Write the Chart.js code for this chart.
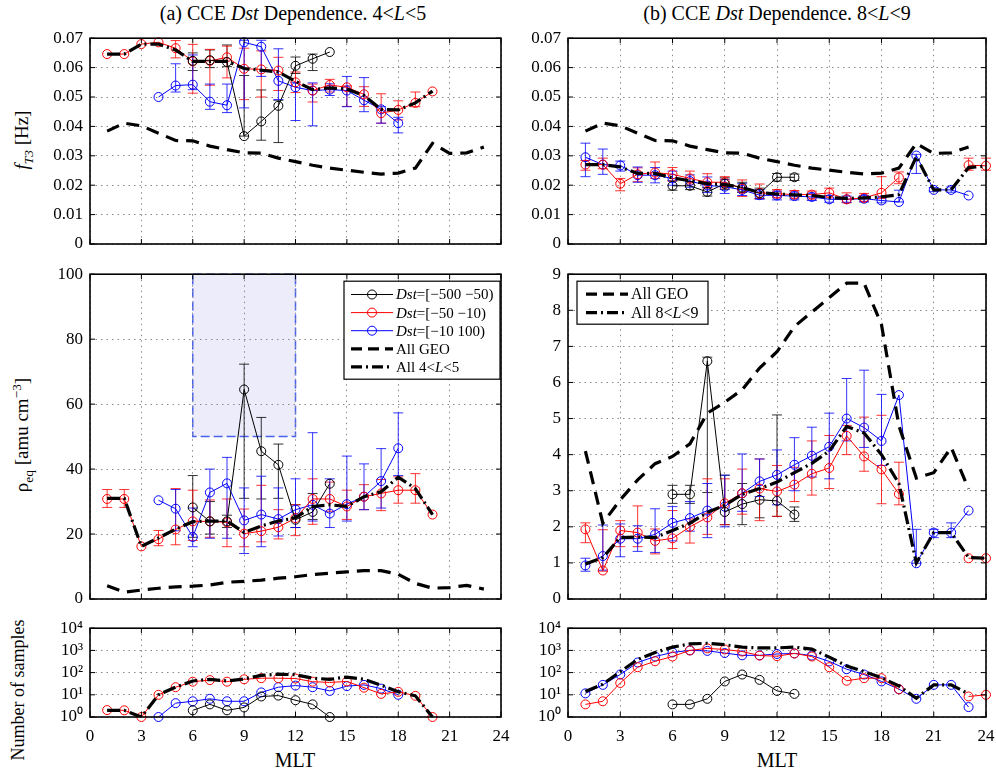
<!DOCTYPE html>
<html>
<head>
<meta charset="utf-8">
<script src="https://cdn.jsdelivr.net/npm/chart.js@4.4.1/dist/chart.umd.min.js"></script>
<style>
  body { margin: 0; background: #fff; width: 996px; height: 775px; overflow: hidden; position: relative;
         font-family: "Liberation Serif", "Times New Roman", serif; color: #000; }
  canvas { position: absolute; }
  .lbl { position: absolute; white-space: nowrap; transform: translate(-50%, -50%); }
  .rot { transform: translate(-50%, -50%) rotate(-90deg); }
  sub, sup { font-size: 70%; line-height: 0; }
</style>
</head>
<body>
<div class="lbl" style="left:293px; top:13px; font-size:20px;">(a) CCE <i>Dst</i> Dependence. 4&lt;<i>L</i>&lt;5</div>
<div class="lbl" style="left:777px; top:13px; font-size:20px;">(b) CCE <i>Dst</i> Dependence. 8&lt;<i>L</i>&lt;9</div>
<div class="lbl rot" style="left:22px; top:140px; font-size:19px;"><i>f</i><sub><i>T3</i></sub> [Hz]</div>
<div class="lbl rot" style="left:22px; top:435px; font-size:19px;">&rho;<sub>eq</sub> [amu cm<sup>&minus;3</sup>]</div>
<div class="lbl rot" style="left:18px; top:690px; font-size:18px;">Number of samples</div>
<div class="lbl" style="left:295px; top:760px; font-size:20px;">MLT</div>
<div class="lbl" style="left:777px; top:760px; font-size:20px;">MLT</div>

<canvas id="fA"></canvas>
<canvas id="fB"></canvas>
<canvas id="rA"></canvas>
<canvas id="rB"></canvas>
<canvas id="nA"></canvas>
<canvas id="nB"></canvas>

<script>
// MLT bins 1..24, null = no data in that bin
const mltTicks = [0, 3, 6, 9, 12, 15, 18, 21, 24];
const fTicks = [0, 0.01, 0.02, 0.03, 0.04, 0.05, 0.06, 0.07];
const rhoTicksA = [0, 20, 40, 60, 80, 100];
const rhoTicksB = [0, 1, 2, 3, 4, 5, 6, 7, 8, 9];
const countTicks = [1, 10, 100, 1000, 10000];

// All GEO reference curves (shared by both columns)
const geoF = [0.0384, 0.0411, 0.0402, 0.0377, 0.0352, 0.0351, 0.0333, 0.0321, 0.031, 0.0309, 0.0292, 0.028,
  0.0268, 0.0258, 0.0251, 0.0244, 0.0238, 0.0241, 0.0258, 0.0342, 0.0308, 0.031, 0.033];
const geoRho = [4.1, 2.1, 2.75, 3.3, 3.75, 3.95, 4.3, 5.15, 5.45, 5.8, 6.4, 6.85, 7.55, 7.95, 8.35, 8.75,
  8.75, 7.6, 4.8, 3.35, 3.5, 4.2, 3.05];

// (a) 4<L<5, f_T3
const fA_strong = [null, null, null, null, null, 0.0623, 0.0625, 0.0619, 0.0367, 0.0417, 0.047, 0.0606, 0.063, 0.0653];
const fA_strongHi = [null, null, null, null, null, 0.065, 0.066, 0.0677, 0.0573, 0.0524, 0.0489, 0.0636, 0.0646, null];
const fA_strongLo = [null, null, null, null, null, 0.059, 0.060, 0.0603, 0.0367, 0.0353, 0.0345, 0.058, 0.059, null];
const fA_mid = [0.0646, 0.0646, 0.068, 0.0686, 0.0666, 0.0621, 0.0623, 0.0635, 0.0596, 0.0594, 0.059, 0.055,
  0.0522, 0.0541, 0.0533, 0.0509, 0.0445, 0.0456, 0.048, 0.0519];
const fA_midHi = [null, null, null, null, 0.0692, 0.0679, 0.0662, 0.0673, 0.0666, 0.0657, 0.0635, 0.0585,
  0.0544, 0.056, 0.0538, 0.0535, 0.0511, 0.0487, 0.0517, null];
const fA_midLo = [null, null, null, null, 0.0633, 0.0513, 0.054, 0.0565, 0.0491, 0.05, 0.0522, 0.0515,
  0.0483, 0.0517, 0.0468, 0.0468, 0.0411, 0.0422, 0.0467, null];
const fA_quiet = [null, null, null, 0.05, 0.0539, 0.0542, 0.0484, 0.0472, 0.0686, 0.0671, 0.0555, 0.0533,
  0.0522, 0.0525, 0.0522, 0.0489, 0.0458, 0.0411];
const fA_quietHi = [null, null, null, null, 0.0613, 0.0643, 0.0544, 0.0544, 0.0693, 0.0693, 0.0664, 0.055,
  0.0548, 0.0545, 0.057, 0.0566, 0.0467, 0.0431];
const fA_quietLo = [null, null, null, null, 0.0517, 0.0525, 0.0458, 0.0447, 0.0463, 0.057, 0.0491, 0.042,
  0.0402, 0.0505, 0.0467, 0.045, 0.0411, 0.0378];
const fA_all = [0.0646, 0.0646, 0.068, 0.068, 0.066, 0.0621, 0.0621, 0.0621, 0.0597, 0.0591, 0.0585, 0.0553,
  0.0525, 0.0531, 0.0527, 0.0505, 0.0458, 0.0456, 0.048, 0.052];

// (b) 8<L<9, f_T3
const fB_strong = [null, null, null, null, null, 0.0198, 0.0198, 0.0177, 0.0205, 0.0192, 0.0172, 0.0227, 0.0227];
const fB_strongHi = [null, null, null, null, null, 0.0215, 0.0212, 0.0192, 0.0225, 0.021, 0.019, 0.024, 0.0238];
const fB_strongLo = [null, null, null, null, null, 0.0183, 0.0185, 0.0163, 0.0185, 0.0175, 0.0155, 0.0214, 0.0216];
const fB_mid = [0.027, 0.027, 0.0205, 0.0237, 0.0243, 0.0237, 0.0223, 0.021, 0.021, 0.0188, 0.0174, 0.0171,
  0.0168, 0.0168, 0.0174, 0.0152, 0.0157, 0.0174, 0.0226, null, null, null, 0.0268, 0.0266];
const fB_midHi = [0.0284, 0.0292, 0.0223, 0.0259, 0.0279, 0.026, 0.0248, 0.0239, 0.0229, 0.0218, 0.0204, 0.0185,
  0.0182, 0.018, 0.019, 0.0174, 0.0172, 0.0229, 0.0245, null, null, null, 0.0292, 0.0292];
const fB_midLo = [0.0251, 0.0256, 0.0181, 0.0212, 0.0223, 0.0214, 0.0204, 0.019, 0.019, 0.0162, 0.0155, 0.0157,
  0.0156, 0.0153, 0.0157, 0.014, 0.0145, 0.0155, 0.0205, null, null, null, 0.0251, 0.0251];
const fB_quiet = [0.0295, 0.027, 0.0267, 0.0234, 0.0234, 0.0223, 0.0214, 0.0199, 0.0195, 0.0184, 0.0166, 0.0165,
  0.0163, 0.016, 0.0152, 0.0152, 0.0154, 0.0148, 0.0143, 0.0301, 0.0184, 0.0184, 0.0165];
const fB_quietHi = [0.0343, 0.0323, 0.0282, 0.0262, 0.026, 0.0248, 0.0235, 0.0228, 0.022, 0.0205, 0.0185, 0.018,
  0.0177, 0.0173, 0.0165, 0.0163, 0.0165, 0.016, 0.0183, 0.0305, 0.0192, 0.0194, null];
const fB_quietLo = [0.0229, 0.0237, 0.0248, 0.021, 0.0208, 0.02, 0.0193, 0.0175, 0.0172, 0.0165, 0.0152, 0.015,
  0.015, 0.0148, 0.0142, 0.0142, 0.0143, 0.014, 0.0143, 0.024, 0.0178, 0.0176, null];
const fB_all = [0.027, 0.027, 0.0262, 0.024, 0.024, 0.0225, 0.0215, 0.0205, 0.0202, 0.0192, 0.0175, 0.017,
  0.0167, 0.0165, 0.0158, 0.0155, 0.0157, 0.016, 0.0168, 0.0297, 0.0184, 0.0184, 0.026, 0.0265];

// (a) 4<L<5, rho_eq
const rA_strong = [null, null, null, null, null, 28.2, 23.9, 23.9, 64.5, 45.5, 41.3, 24.4, 26.8, 35.5];
const rA_strongHi = [null, null, null, null, null, 38, 30, 25.8, 72.3, 55.9, 47.7, 29, 32.5, null];
const rA_strongLo = [null, null, null, null, null, 19, 20, 22, 31, 30.8, 31, 22, 24.5, null];
const rA_mid = [30.8, 30.8, 16.2, 18.4, 21.4, 23.9, 23.9, 23.6, 20.1, 20.9, 22.1, 24.9, 30.8, 30.8, 28.5,
  31.5, 32.5, 33.5, 33.5, 26];
const rA_midHi = [33.7, 33.7, null, 21.1, 34, 33.5, 30.5, 30.8, 27.7, 35, 27.5, 29, 37, 36, 33.5, 35.2,
  36.8, 37.6, 38.6, null];
const rA_midLo = [28.2, 28.2, null, 16.4, 16.7, 18, 19, 16.1, 16.1, 17.6, 18.5, 19.5, 23, 27, 24.5, 27.5,
  27.2, 29.5, 29.5, null];
const rA_quiet = [null, null, null, 30.4, 27.8, 19.1, 32.8, 35.6, 24.2, 26, 24.6, 27.5, 29, 26.3, 29.2, 31.5, 36.3, 46.4];
const rA_quietHi = [null, null, null, null, 33.7, 28, 40, 43.6, 34.2, 37.8, 34.2, 37, 51.2, 37, 44, 41.6, 46.3, 57.3];
const rA_quietLo = [null, null, null, null, 21, 16.1, 18.7, 18.7, 14, 16.1, 19.4, 22, 24, 22, 24, 27.5, 28, 38];
const rA_all = [31, 31, 16.2, 18.8, 21.5, 23.8, 24, 24, 20.5, 22.5, 24, 25, 28.5, 29, 28.5, 31.5, 33, 37.5, 34, 26];

// (b) 8<L<9, rho_eq
const rB_strong = [null, null, null, null, null, 2.9, 2.9, 6.59, 2.41, 2.63, 2.75, 2.72, 2.34];
const rB_strongHi = [null, null, null, null, null, 3.15, 3.15, 6.7, 3.43, 3.2, 3.06, 5.1, 2.55];
const rB_strongLo = [null, null, null, null, null, 2.65, 2.65, 2.95, 2.06, 2.06, 2.25, 2.29, 2.15];
const rB_mid = [1.93, 0.79, 1.9, 1.84, 1.61, 1.68, 2.0, 2.26, 2.65, 2.93, 3.06, 2.98, 3.17, 3.47, 3.63, 4.52,
  3.95, 3.59, 2.91, null, null, null, 1.13, 1.13];
const rB_midHi = [2.11, 1.92, 2.17, 2.58, 1.94, 2.45, 2.22, 3.33, 3.33, 3.6, 3.88, 3.7, 3.65, 4.38, 4.53, 4.81,
  5.04, 5.09, 3.79, null, null, null, null, null];
const rB_midLo = [1.56, 0.77, 1.45, 1.45, 1.25, 1.4, 1.55, 1.79, 2.06, 2.35, 2.17, 2.29, 2.7, 2.88, 3.06, 4.0,
  3.54, 2.64, 2.61, null, null, null, null, null];
const rB_quiet = [0.93, 1.19, 1.67, 1.67, 1.79, 2.11, 2.24, 2.45, 2.56, 2.93, 3.26, 3.44, 3.72, 3.97, 4.22, 5.0,
  4.75, 4.38, 5.65, 0.99, 1.84, 1.84, 2.45];
const rB_quietHi = [1.13, 2.05, 2.08, 2.03, 2.5, 2.56, 2.7, 3.2, 3.43, 4.02, 3.88, 4.13, 4.47, 4.76, 5.15, 6.11,
  6.34, 5.67, null, 1.93, 1.93, 2.11, null];
const rB_quietLo = [0.77, 0.8, 1.17, 1.32, 1.29, 1.61, 1.88, 1.7, 2.0, 2.43, 2.84, 2.61, 3.0, 3.38, 3.33, 4.38,
  4.2, 3.7, null, 0.99, 1.7, 1.7, null];
const rB_all = [0.97, 1.15, 1.7, 1.72, 1.7, 1.9, 2.1, 2.4, 2.6, 2.9, 3.06, 3.24, 3.5, 3.76, 4.1, 4.78, 4.6, 4.0,
  3.2, 1.0, 1.84, 1.84, 1.15, 1.13];

// sample counts
const nA_strong = [null, null, null, null, null, 2, 3.7, 2, 2.7, 8.4, 9.2, 5.7, 3.7, 1];
const nA_mid = [2.05, 2, 1, 10, 22, 39, 46, 39, 50, 56, 56, 54, 39, 36, 40, 21, 11, 13.6, 9, 1];
const nA_quiet = [null, null, null, 1, 4.2, 5.1, 6.6, 5.1, 5.1, 12.8, 22, 26, 22, 15, 24.5, 28, 19, 10];
const nA_all = [2, 2, 1, 10, 22, 42, 50, 42, 52, 75, 85, 80, 56, 50, 63, 50, 27, 13.6, 9, 1];
const nB_strong = [null, null, null, null, null, 3.7, 3.7, 6.6, 40, 82, 47, 15, 11];
const nB_mid = [3.7, 5.1, 34, 175, 324, 530, 1000, 1230, 1100, 890, 585, 550, 730, 530, 175, 43, 56, 56, 17.7,
  null, null, null, 8.4, 10];
const nB_quiet = [11.6, 28, 82, 285, 530, 810, 1000, 950, 760, 600, 600, 690, 730, 585, 320, 142, 82, 40, 18,
  6.6, 28, 28, 2.8];
const nB_all = [14, 30, 110, 390, 800, 1400, 1950, 2100, 1800, 1400, 1300, 1300, 1400, 1150, 500, 200, 110, 59,
  25, 7, 28, 28, 11];

const RED = '#ff0000', BLUE = '#0000ff', BLACK = '#000000';
const ML = 70, MT = 12, MR = 22, MB = 36;
const SERIF = '"Liberation Serif", "Times New Roman", serif';

Chart.defaults.font.family = SERIF;
Chart.defaults.font.size = 17;
Chart.defaults.color = '#000';

const toPts = arr => arr.map((v, i) => ({ x: i + 1, y: v }));

function dstSeries(values, color, lo, hi) {
  return {
    data: toPts(values), borderColor: color, borderWidth: 1,
    pointRadius: 4.5, pointBorderWidth: 1, pointBorderColor: color,
    pointBackgroundColor: 'rgba(0,0,0,0)', errLo: lo, errHi: hi, order: 2, clip: false
  };
}
function thickLine(values, dash) {
  return { data: toPts(values), borderColor: BLACK, borderWidth: 3.2, borderDash: dash, pointRadius: 0, order: 1 };
}
const GEO_DASH = [13, 8];
const ALL_DASH = [13, 4, 2, 4];

// vertical error bars with caps
const errorBars = {
  id: 'errorBars',
  beforeDatasetsDraw(chart) {
    const { ctx, scales: { x, y } } = chart;
    chart.data.datasets.forEach(ds => {
      if (!ds.errHi) return;
      ctx.save();
      ctx.strokeStyle = ds.borderColor;
      ctx.globalAlpha = 0.8;
      ctx.lineWidth = 1;
      ctx.beginPath();
      ds.errHi.forEach((hi, i) => {
        const lo = ds.errLo[i];
        if (hi == null || lo == null) return;
        const px = x.getPixelForValue(i + 1);
        const y1 = y.getPixelForValue(hi), y2 = y.getPixelForValue(lo);
        ctx.moveTo(px, y1); ctx.lineTo(px, y2);
        ctx.moveTo(px - 5, y1); ctx.lineTo(px + 5, y1);
        ctx.moveTo(px - 5, y2); ctx.lineTo(px + 5, y2);
      });
      ctx.stroke();
      ctx.restore();
    });
  }
};

// box outline with inward tick marks
const frame = {
  id: 'frame',
  afterDraw(chart) {
    const { ctx, chartArea: a, scales: { x, y } } = chart;
    ctx.save();
    ctx.strokeStyle = '#000';
    ctx.lineWidth = 1;
    ctx.beginPath();
    x.ticks.forEach(t => {
      const p = x.getPixelForValue(t.value);
      ctx.moveTo(p, a.bottom); ctx.lineTo(p, a.bottom - 5);
      ctx.moveTo(p, a.top); ctx.lineTo(p, a.top + 5);
    });
    y.ticks.forEach(t => {
      const p = y.getPixelForValue(t.value);
      ctx.moveTo(a.left, p); ctx.lineTo(a.left + 5, p);
      ctx.moveTo(a.right, p); ctx.lineTo(a.right - 5, p);
    });
    ctx.stroke();
    ctx.lineWidth = 1.6;
    ctx.strokeRect(a.left, a.top, a.width, a.height);
    ctx.restore();
  }
};

function shadePlugin(x0, x1, y0, y1) {
  return {
    id: 'shade',
    beforeDraw(chart) {
      const { ctx, scales: { x, y } } = chart;
      const l = x.getPixelForValue(x0), r = x.getPixelForValue(x1);
      const t = y.getPixelForValue(y1), b = y.getPixelForValue(y0);
      ctx.save();
      ctx.fillStyle = '#ececfa';
      ctx.fillRect(l, t, r - l, b - t);
      ctx.strokeStyle = '#4a62f0';
      ctx.lineWidth = 1.5;
      ctx.setLineDash([9, 4]);
      ctx.strokeRect(l, t, r - l, b - t);
      ctx.restore();
    }
  };
}

function legendPlugin(box) {
  return {
    id: 'boxLegend',
    afterDraw(chart) {
      const { ctx, chartArea: a } = chart;
      const L = a.left + box.x, T = a.top + box.y;
      ctx.save();
      ctx.fillStyle = '#fff';
      ctx.fillRect(L, T, box.w, box.h);
      ctx.strokeStyle = '#000';
      ctx.lineWidth = 1.2;
      ctx.strokeRect(L, T, box.w, box.h);
      box.rows.forEach((r, i) => {
        const cy = T + box.first + i * box.step;
        ctx.strokeStyle = r.color;
        ctx.lineWidth = r.width;
        ctx.setLineDash(r.dash || []);
        ctx.beginPath();
        ctx.moveTo(L + box.lx0, cy); ctx.lineTo(L + box.lx1, cy);
        ctx.stroke();
        ctx.setLineDash([]);
        if (r.marker) {
          ctx.lineWidth = 1;
          ctx.beginPath();
          ctx.arc(L + (box.lx0 + box.lx1) / 2, cy, 4.5, 0, 2 * Math.PI);
          ctx.stroke();
        }
        let tx = L + box.tx;
        ctx.fillStyle = '#000';
        ctx.textBaseline = 'middle';
        r.text.forEach(([s, it]) => {
          ctx.font = (it ? 'italic ' : '') + box.size + 'px ' + SERIF;
          ctx.fillText(s, tx, cy + 1);
          tx += ctx.measureText(s).width;
        });
      });
      ctx.restore();
    }
  };
}

const gridStyle = { color: '#8a8a8a', lineWidth: 1, drawTicks: false };
const borderStyle = { display: false, dash: [1.5, 4] };
const tickFont = { family: SERIF, size: 17 };
const sup = ['\u2070', '\u00b9', '\u00b2', '\u00b3', '\u2074'];

function makeChart(id, left, top, w, h, datasets, yScale, showX, extraPlugins) {
  const cv = document.getElementById(id);
  cv.width = w + ML + MR;
  cv.height = h + MT + MB;
  cv.style.left = (left - ML) + 'px';
  cv.style.top = (top - MT) + 'px';
  return new Chart(cv.getContext('2d'), {
    type: 'line',
    data: { datasets: datasets },
    options: {
      responsive: false, animation: false, events: [],
      layout: { padding: { left: 0, top: MT, right: MR, bottom: 0 } },
      plugins: { legend: { display: false }, tooltip: { enabled: false } },
      scales: {
        x: {
          type: 'linear', min: 0, max: 24,
          afterBuildTicks: s => { s.ticks = mltTicks.map(v => ({ value: v })); },
          afterFit: s => { s.height = MB; },
          ticks: { display: showX, padding: 9, maxRotation: 0, autoSkip: false, font: tickFont },
          grid: gridStyle, border: borderStyle
        },
        y: Object.assign({
          afterFit: s => { s.width = ML; },
          grid: gridStyle, border: borderStyle
        }, yScale)
      }
    },
    plugins: [errorBars, frame].concat(extraPlugins || [])
  });
}

function linY(min, max, ticks, fmt) {
  return {
    type: 'linear', min: min, max: max,
    afterBuildTicks: s => { s.ticks = ticks.map(v => ({ value: v })); },
    ticks: { padding: 7, autoSkip: false, font: tickFont, callback: fmt }
  };
}
const fFmt = v => (v === 0 ? '0' : v.toFixed(2));
const intFmt = v => String(v);
const logY = {
  type: 'logarithmic', min: 1, max: 10000,
  afterBuildTicks: s => { s.ticks = countTicks.map(v => ({ value: v })); },
  ticks: { padding: 7, autoSkip: false, font: tickFont, callback: v => '10' + sup[Math.round(Math.log10(v))] }
};

const LEFT_A = 90, W_A = 411, LEFT_B = 568, W_B = 418;
const TOP_F = 33, H_F = 211, TOP_R = 269, H_R = 330, TOP_N = 623, H_N = 94;

makeChart('fA', LEFT_A, TOP_F, W_A, H_F, [
  thickLine(fA_all, ALL_DASH),
  dstSeries(fA_strong, BLACK, fA_strongLo, fA_strongHi),
  dstSeries(fA_mid, RED, fA_midLo, fA_midHi),
  dstSeries(fA_quiet, BLUE, fA_quietLo, fA_quietHi),
  thickLine(geoF, GEO_DASH)
], linY(0, 0.07, fTicks, fFmt), false);

makeChart('fB', LEFT_B, TOP_F, W_B, H_F, [
  thickLine(fB_all, ALL_DASH),
  dstSeries(fB_strong, BLACK, fB_strongLo, fB_strongHi),
  dstSeries(fB_mid, RED, fB_midLo, fB_midHi),
  dstSeries(fB_quiet, BLUE, fB_quietLo, fB_quietHi),
  thickLine(geoF, GEO_DASH)
], linY(0, 0.07, fTicks, fFmt), false);

makeChart('rA', LEFT_A, TOP_R, W_A, H_R, [
  thickLine(rA_all, ALL_DASH),
  dstSeries(rA_strong, BLACK, rA_strongLo, rA_strongHi),
  dstSeries(rA_mid, RED, rA_midLo, rA_midHi),
  dstSeries(rA_quiet, BLUE, rA_quietLo, rA_quietHi),
  thickLine(geoRho, GEO_DASH)
], linY(0, 100, rhoTicksA, intFmt), false, [
  shadePlugin(6, 12, 50, 100),
  legendPlugin({
    x: 254, y: 7, w: 156, h: 98, first: 13.3, step: 18.1, lx0: 7, lx1: 49, tx: 52, size: 15,
    rows: [
      { color: BLACK, width: 1, marker: true, text: [['Dst', true], ['=[\u2212500 \u221250)', false]] },
      { color: RED, width: 1, marker: true, text: [['Dst', true], ['=[\u221250 \u221210)', false]] },
      { color: BLUE, width: 1, marker: true, text: [['Dst', true], ['=[\u221210 100)', false]] },
      { color: BLACK, width: 3.2, dash: [11, 6], text: [['All GEO', false]] },
      { color: BLACK, width: 3.2, dash: [11, 4, 2, 4], text: [['All 4<', false], ['L', true], ['<5', false]] }
    ]
  })
]);

makeChart('rB', LEFT_B, TOP_R, W_B, H_R, [
  thickLine(rB_all, ALL_DASH),
  dstSeries(rB_strong, BLACK, rB_strongLo, rB_strongHi),
  dstSeries(rB_mid, RED, rB_midLo, rB_midHi),
  dstSeries(rB_quiet, BLUE, rB_quietLo, rB_quietHi),
  thickLine(geoRho, GEO_DASH)
], linY(0, 9, rhoTicksB, intFmt), false, [
  legendPlugin({
    x: 9, y: 7, w: 131, h: 43, first: 13, step: 18.5, lx0: 9, lx1: 51, tx: 54, size: 16,
    rows: [
      { color: BLACK, width: 3.2, dash: [11, 6], text: [['All GEO', false]] },
      { color: BLACK, width: 3.2, dash: [11, 4, 2, 4], text: [['All 8<', false], ['L', true], ['<9', false]] }
    ]
  })
]);

makeChart('nA', LEFT_A, TOP_N, W_A, H_N, [
  thickLine(nA_all, ALL_DASH),
  dstSeries(nA_strong, BLACK),
  dstSeries(nA_mid, RED),
  dstSeries(nA_quiet, BLUE)
], logY, true);

makeChart('nB', LEFT_B, TOP_N, W_B, H_N, [
  thickLine(nB_all, ALL_DASH),
  dstSeries(nB_strong, BLACK),
  dstSeries(nB_mid, RED),
  dstSeries(nB_quiet, BLUE)
], logY, true);
</script>
</body>
</html>
